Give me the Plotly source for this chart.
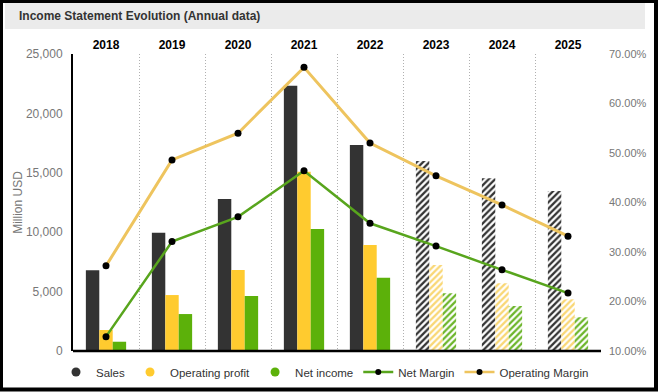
import plotly.graph_objects as go

# ---- data ----
years = ["2018", "2019", "2020", "2021", "2022", "2023", "2024", "2025"]
sales = [6800, 9950, 12790, 22330, 17340, 15990, 14540, 13470]
operating_profit = [1770, 4710, 6820, 15090, 8920, 7240, 5700, 4350]
net_income = [780, 3110, 4630, 10270, 6170, 4860, 3790, 2840]
net_margin = [12.9, 32.1, 37.1, 46.4, 35.8, 31.2, 26.4, 21.7]
operating_margin = [27.2, 48.6, 54.0, 67.3, 52.0, 45.4, 39.5, 33.2]
is_estimate = [False, False, False, False, False, True, True, True]
left_ticks = [0, 5000, 10000, 15000, 20000, 25000]
right_ticks = [10, 20, 30, 40, 50, 60, 70]
right_tick_labels = [f"{v:.2f}%" for v in right_ticks]

# ---- styles ----
FONT = "Liberation Sans, Arial, sans-serif"
C_SALES = "#333333"
C_OP = "#ffcb2f"
C_NET = "#5cb10a"
C_OP_LIGHT = "#f9d774"
C_NET_LIGHT = "#6cb52a"
C_OPM = "#eec45e"
C_NM = "#58a51d"

W, H = 659, 392
ML, MR, MT, MB = 73, 58, 54, 41
PW, PH = W - ML - MR, H - MT - MB


def px_x(px):
    return (px - ML) / PW


def px_y(py):
    return (H - MB - py) / PH


def bar_trace(name, values, color, hatch_color):
    shapes = ["/" if e else "" for e in is_estimate]
    return go.Bar(
        x=years, y=values, name=name, showlegend=False,
        marker=dict(
            color=color, line=dict(width=0),
            pattern=dict(shape=shapes, fgcolor=[hatch_color if e else color for e in is_estimate],
                         bgcolor="white", size=4.5, solidity=0.5, fillmode="replace"),
        ),
        xaxis="x", yaxis="y", hoverinfo="skip",
    )


fig = go.Figure()
fig.add_trace(bar_trace("Sales", sales, C_SALES, C_SALES))
fig.add_trace(bar_trace("Operating profit", operating_profit, C_OP, C_OP_LIGHT))
fig.add_trace(bar_trace("Net income", net_income, C_NET, C_NET_LIGHT))

# legend-only markers for the bar series
for name, col in [("Sales", C_SALES), ("Operating profit", C_OP), ("Net income", C_NET)]:
    fig.add_trace(go.Scatter(x=[None], y=[None], mode="markers", name=name,
                             marker=dict(color=col, size=9), xaxis="x", yaxis="y"))

fig.add_trace(go.Scatter(
    x=years, y=operating_margin, name="Operating Margin", mode="lines+markers",
    line=dict(color=C_OPM, width=3), marker=dict(color="black", size=7),
    xaxis="x", yaxis="y2", showlegend=False))
fig.add_trace(go.Scatter(
    x=years, y=net_margin, name="Net Margin", mode="lines+markers",
    line=dict(color=C_NM, width=2.5), marker=dict(color="black", size=7),
    xaxis="x", yaxis="y2", showlegend=False))
# legend entries for lines, in the reference order
fig.add_trace(go.Scatter(x=[None], y=[None], mode="lines+markers", name="Net Margin",
                         line=dict(color=C_NM, width=2.5), marker=dict(color="black", size=6),
                         xaxis="x", yaxis="y2"))
fig.add_trace(go.Scatter(x=[None], y=[None], mode="lines+markers", name="Operating Margin",
                         line=dict(color=C_OPM, width=2.5), marker=dict(color="black", size=6),
                         xaxis="x", yaxis="y2"))

shapes = [
    # title band
    dict(type="rect", xref="paper", yref="paper", x0=px_x(5), x1=px_x(645), y0=px_y(29), y1=px_y(3),
         fillcolor="#ebebeb", line=dict(width=0), layer="below"),
    # bottom axis line
    dict(type="line", xref="paper", yref="paper", x0=0, x1=1, y0=0, y1=0,
         line=dict(color="black", width=2.5)),
    # outer frame
    dict(type="rect", xref="paper", yref="paper", x0=px_x(1), x1=px_x(656), y0=px_y(389.5), y1=px_y(1),
         line=dict(color="black", width=4), fillcolor="rgba(0,0,0,0)"),
]

fig.update_layout(
    width=W, height=H, autosize=False,
    margin=dict(l=ML, r=MR, t=MT, b=MB, pad=0, autoexpand=False),
    paper_bgcolor="white", plot_bgcolor="white",
    font=dict(family=FONT, size=12, color="#333"),
    barmode="group", bargap=0.39, bargroupgap=0,
    shapes=shapes,
    annotations=[dict(text="Income Statement Evolution (Annual data)", xref="paper", yref="paper",
                      x=px_x(17), y=px_y(16), xanchor="left", yanchor="middle", showarrow=False,
                      font=dict(family=FONT, size=12, color="#333", weight="bold"))],
    xaxis=dict(type="category", side="top", categoryorder="array", categoryarray=years,
               tickson="boundaries", ticks="", showline=False, zeroline=False,
               showgrid=True, griddash="1px,2px", gridcolor="#b0b0b0", gridwidth=1,
               tickfont=dict(family=FONT, size=12, color="black", weight="bold"),
               ticklabelstandoff=2),
    yaxis=dict(range=[0, 25000], tickvals=left_ticks, tickformat=",", showgrid=False,
               zeroline=False, showline=True, linecolor="black", linewidth=2, ticks="",
               tickfont=dict(family=FONT, size=12, color="#777"), ticklabelstandoff=6,
               title=dict(text="Million USD", font=dict(family=FONT, size=12, color="#777"), standoff=1)),
    yaxis2=dict(range=[10, 70], tickmode="array", tickvals=right_ticks, ticktext=right_tick_labels,
                overlaying="y", side="right", showgrid=False, zeroline=False, showline=False,
                ticks="", tickfont=dict(family=FONT, size=11, color="#777"), ticklabelstandoff=7),
    legend=dict(orientation="h", xref="paper", yref="paper", x=px_x(56), xanchor="left",
                y=px_y(372), yanchor="middle", font=dict(family=FONT, size=11.5, color="#333"),
                itemwidth=30, bgcolor="rgba(0,0,0,0)"),
)

fig.write_html("out.html", config={"displayModeBar": False},
               post_script="document.body.style.margin='0';")
